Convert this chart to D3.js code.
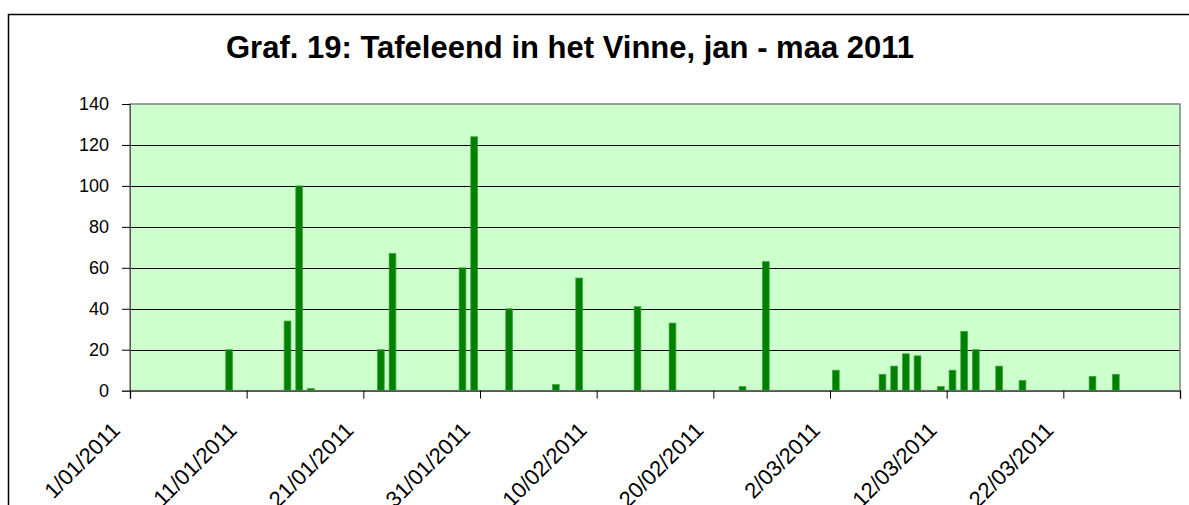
<!DOCTYPE html>
<html>
<head>
<meta charset="utf-8">
<script src="https://d3js.org/d3.v7.min.js"></script>
<style>
  body { margin: 0; background: #fff; }
  svg { display: block; font-family: "Liberation Sans", Arial, sans-serif; }
</style>
</head>
<body>
<svg width="1189" height="505"></svg>
<script>
// counts per day (Tafeleend, Vinne 2011)
var dates = ["2011-01-09", "2011-01-14", "2011-01-15", "2011-01-16", "2011-01-22", "2011-01-23",
  "2011-01-29", "2011-01-30", "2011-02-02", "2011-02-06", "2011-02-08", "2011-02-13",
  "2011-02-16", "2011-02-22", "2011-02-24", "2011-03-02", "2011-03-06", "2011-03-07",
  "2011-03-08", "2011-03-09", "2011-03-11", "2011-03-12", "2011-03-13", "2011-03-14",
  "2011-03-16", "2011-03-18", "2011-03-24", "2011-03-26"];
var counts = [20, 34, 100, 1, 20, 67,
  60, 124, 40, 3, 55, 41,
  33, 2, 63, 10, 8, 12,
  18, 17, 2, 10, 29, 20,
  12, 5, 7, 8];
var yTicks = [0, 20, 40, 60, 80, 100, 120, 140];
var title = "Graf. 19: Tafeleend in het Vinne, jan - maa 2011";

var parse = d3.timeParse("%Y-%m-%d");
var fmt = function(d) { return d.getDate() + "/" + d3.timeFormat("%m/%Y")(d); };

var svg = d3.select("svg");

var margin = { top: 104, right: 9, bottom: 114.33, left: 130 };
var width = 1189 - margin.left - margin.right;
var height = 505 - margin.top - margin.bottom;

// outer chart border
svg.append("rect")
  .attr("x", 8.5).attr("y", 14.5)
  .attr("width", 1200).attr("height", 520)
  .attr("fill", "none").attr("stroke", "#000").attr("stroke-width", 1.5);

svg.append("text")
  .attr("x", 570).attr("y", 58)
  .attr("text-anchor", "middle")
  .style("font-size", "31px").style("font-weight", "bold")
  .text(title);

var plot = svg.append("g")
  .attr("transform", "translate(" + margin.left + "," + margin.top + ")");

var start = parse("2011-01-01"), end = parse("2011-04-01");
var x = d3.scaleTime().domain([start, end]).range([0, width]);
var y = d3.scaleLinear().domain([0, 140]).range([height, 0]);
var dayW = x(d3.timeDay.offset(start, 1)) - x(start);

plot.append("rect")
  .attr("width", width).attr("height", height)
  .attr("fill", "#ccffcc");

// gridlines
plot.append("g")
  .selectAll("line")
  .data(yTicks.slice(1, -1))
  .enter().append("line")
  .attr("x1", 0).attr("x2", width)
  .attr("y1", function(d) { return Math.round(y(d)) + 0.5; })
  .attr("y2", function(d) { return Math.round(y(d)) + 0.5; })
  .attr("stroke", "#000").attr("stroke-width", 1);

plot.append("rect")
  .attr("width", width).attr("height", height)
  .attr("fill", "none").attr("stroke", "#808080").attr("stroke-width", 1.5);

var bw = dayW * 0.58;
plot.selectAll("rect.bar")
  .data(d3.zip(dates, counts))
  .enter().append("rect")
  .attr("class", "bar")
  .attr("x", function(d) { return x(parse(d[0])) + dayW / 2 - bw / 2; })
  .attr("y", function(d) { return y(d[1]); })
  .attr("width", bw)
  .attr("height", function(d) { return height - y(d[1]); })
  .attr("fill", "#008000")
  .attr("stroke", "#40a040").attr("stroke-width", 0.7);

// axes
var yAxis = d3.axisLeft(y).tickValues(yTicks).tickSize(8).tickPadding(13);
var yG = plot.append("g").call(yAxis);
yG.select(".domain").attr("stroke", "#555");
yG.selectAll("text").style("font-size", "18px").attr("fill", "#000");

var xTicks = d3.timeDay.range(start, d3.timeDay.offset(end, 1), 10);
var xAxis = d3.axisBottom(x).tickValues(xTicks).tickSize(8).tickFormat(fmt);
var xG = plot.append("g")
  .attr("transform", "translate(0," + height + ")")
  .call(xAxis);
xG.select(".domain").attr("stroke", "#555").attr("stroke-width", 1.5);
xG.selectAll("text")
  .filter(function(d) { return +d === +end; })
  .remove();
xG.selectAll("text")
  .style("font-size", "22px").attr("fill", "#000")
  .attr("text-anchor", "end")
  .attr("y", 0).attr("dy", 0)
  .attr("transform", "translate(-9,41) rotate(-45)");
</script>
</body>
</html>
